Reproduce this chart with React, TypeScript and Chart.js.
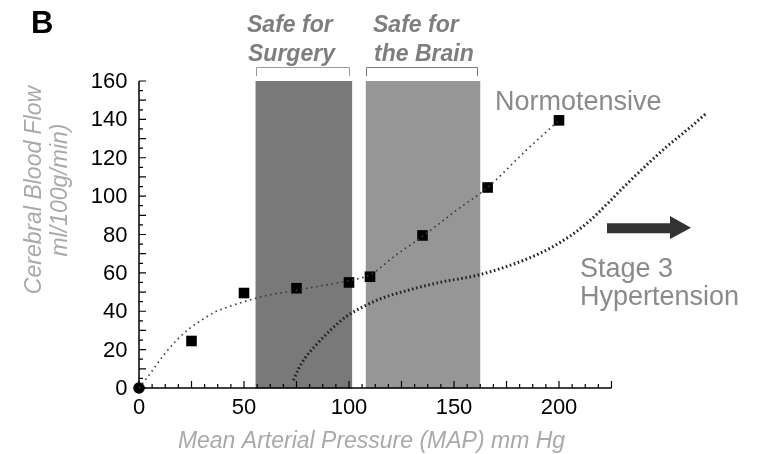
import React, { useEffect, useRef } from 'react';
import { Chart, registerables } from 'chart.js';

Chart.register(...registerables);

// Measured normotensive data points (MAP mm Hg, CBF ml/100g/min)
const measuredMAP = [25, 50, 75, 100, 110, 135, 166, 200];
const measuredCBF = [24.5, 49.5, 52, 55, 58, 79.5, 104.5, 139.5];

// Origin marker
const originPoint = [0, 0];

// Normotensive autoregulation curve
const normoCurveX = [0, 6, 12, 18, 24, 30, 36, 43, 50, 60, 75, 88, 100, 110, 122, 135, 151, 166, 184, 200];
const normoCurveY = [0, 8.5, 17.5, 25, 31, 35.5, 39.5, 42.5, 45, 48, 51, 53.5, 56, 59, 69, 79, 92.5, 104.5, 123.5, 139.5];

// Stage 3 hypertension curve
const hyperCurveX = [73.5, 76, 79, 84, 91, 99, 107, 115, 130, 143, 162, 183, 196, 207, 215, 223, 232, 242, 251, 261, 270];
const hyperCurveY = [4, 10, 15.5, 22, 30, 37.5, 42.5, 46.5, 51.5, 55, 59, 66.5, 73, 80.5, 87.5, 96, 106, 116.5, 125.5, 134.5, 143];

// Tick labels
const xTickLabels = [0, 50, 100, 150, 200];
const yTickLabels = [0, 20, 40, 60, 80, 100, 120, 140, 160];

// Shaded MAP ranges
const bandStarts = [55.5, 108];
const bandEnds = [101.5, 162.5];
const bandColors = ['#797979', '#969696'];
const bracketColors = ['#9a9a9a', '#7a7a7a'];
const bandLabelLines = [
  ['Safe for', 'Surgery'],
  ['Safe for', 'the Brain'],
];

const xAxisEnd = 225;
const FONT = "'Liberation Sans', Arial, Helvetica, sans-serif";

const decorPlugin = {
  id: 'decor',
  beforeDatasetsDraw(chart: any) {
    const { ctx, scales } = chart;
    const xs = scales.x;
    const ys = scales.y;
    const y0 = ys.getPixelForValue(0);
    const yTop = ys.getPixelForValue(160);
    ctx.save();
    // bands
    bandStarts.forEach((s, i) => {
      const l = xs.getPixelForValue(s);
      const r = xs.getPixelForValue(bandEnds[i]);
      ctx.fillStyle = bandColors[i];
      ctx.fillRect(l, yTop, r - l, y0 - yTop + 0.5);
      // brackets
      ctx.strokeStyle = bracketColors[i];
      ctx.lineWidth = 1;
      ctx.beginPath();
      const bl = Math.round(l) + 0.5;
      const br = Math.round(r - 3) + 0.5;
      ctx.moveTo(bl, 76);
      ctx.lineTo(bl, 67.5);
      ctx.lineTo(br, 67.5);
      ctx.lineTo(br, 76);
      ctx.stroke();
    });

    // axes
    const x0 = xs.getPixelForValue(0);
    const xEnd = xs.getPixelForValue(xAxisEnd);
    ctx.strokeStyle = '#000';
    ctx.lineWidth = 1.5;
    ctx.beginPath();
    ctx.moveTo(x0, yTop);
    ctx.lineTo(x0, y0);
    ctx.lineTo(xEnd, y0);
    ctx.stroke();

    ctx.lineWidth = 1.2;
    ctx.beginPath();
    for (let v = 0; v <= 160; v += 5) {
      const py = ys.getPixelForValue(v);
      const len = v % 10 === 0 ? 7 : 4;
      ctx.moveTo(x0, py);
      ctx.lineTo(x0 + len, py);
    }
    for (let v = 0; v <= xAxisEnd + 0.01; v += 6.25) {
      const px = xs.getPixelForValue(v);
      const len = Math.abs(v % 25) < 0.01 ? 7 : 4;
      ctx.moveTo(px, y0);
      ctx.lineTo(px, y0 - len);
    }
    ctx.stroke();

    // tick labels
    ctx.fillStyle = '#000';
    ctx.font = `22px ${FONT}`;
    ctx.textAlign = 'right';
    ctx.textBaseline = 'middle';
    yTickLabels.forEach((v) => {
      ctx.fillText(String(v), 127.5, ys.getPixelForValue(v) + 1);
    });
    ctx.textAlign = 'center';
    xTickLabels.forEach((v) => {
      ctx.fillText(String(v), xs.getPixelForValue(v), 407.5);
    });
    ctx.restore();
  },
  afterDraw(chart: any) {
    const { ctx } = chart;
    ctx.save();
    // panel letter
    ctx.fillStyle = '#000';
    ctx.font = `bold 31px ${FONT}`;
    ctx.textAlign = 'left';
    ctx.textBaseline = 'alphabetic';
    ctx.fillText('B', 31, 32.5);

    // band labels
    ctx.fillStyle = '#7e7e7e';
    ctx.font = `italic bold 23px ${FONT}`;
    const lefts = [247, 373];
    bandLabelLines.forEach((lines, i) => {
      ctx.fillText(lines[0], lefts[i], 31.5);
      ctx.fillText(lines[1], lefts[i] + 1, 60.5);
    });

    // curve labels
    ctx.fillStyle = '#8a8a8a';
    ctx.font = `27px ${FONT}`;
    ctx.fillText('Normotensive', 495, 110);
    ctx.fillText('Stage 3', 580, 276.5);
    ctx.fillText('Hypertension', 580, 305);

    // arrow
    ctx.fillStyle = '#333';
    ctx.beginPath();
    ctx.moveTo(607, 223.3);
    ctx.lineTo(670, 223.3);
    ctx.lineTo(670, 216);
    ctx.lineTo(691, 227.8);
    ctx.lineTo(670, 239);
    ctx.lineTo(670, 233.3);
    ctx.lineTo(607, 233.3);
    ctx.closePath();
    ctx.fill();

    // axis titles
    ctx.fillStyle = '#a9a9a9';
    ctx.font = `italic 23px ${FONT}`;
    ctx.textAlign = 'center';
    ctx.fillText('Mean Arterial Pressure (MAP) mm Hg', 371.5, 448);

    ctx.translate(0, 190);
    ctx.rotate(-Math.PI / 2);
    ctx.fillText('Cerebral Blood Flow', 0, 40.5);
    ctx.fillText('ml/100g/min)', 0, 67);
    ctx.restore();
  },
};

export default function App() {
  const canvasRef = useRef<HTMLCanvasElement | null>(null);

  useEffect(() => {
    const canvas = canvasRef.current;
    if (!canvas) return;
    const chart = new Chart(canvas, {
      type: 'line',
      data: {
        datasets: [
          {
            type: 'line',
            label: 'Normotensive curve',
            data: normoCurveX.map((x, i) => ({ x, y: normoCurveY[i] })),
            borderColor: '#3a3a3a',
            borderWidth: 1.6,
            borderDash: [1.6, 3.6],
            pointRadius: 0,
            cubicInterpolationMode: 'monotone',
            fill: false,
            clip: false,
          } as any,
          {
            type: 'line',
            label: 'Stage 3 hypertension curve',
            data: hyperCurveX.map((x, i) => ({ x, y: hyperCurveY[i] })),
            borderColor: '#222',
            borderWidth: 3,
            borderDash: [1.6, 2.6],
            pointRadius: 0,
            cubicInterpolationMode: 'monotone',
            fill: false,
            clip: false,
          } as any,
          {
            type: 'scatter',
            label: 'Normotensive',
            data: measuredMAP.map((x, i) => ({ x, y: measuredCBF[i] })),
            pointStyle: 'rect',
            pointRadius: 7.5,
            backgroundColor: '#000',
            borderColor: '#000',
            borderWidth: 0,
            clip: false,
          } as any,
          {
            type: 'scatter',
            label: 'Origin',
            data: [{ x: originPoint[0], y: originPoint[1] }],
            pointStyle: 'circle',
            pointRadius: 5.8,
            backgroundColor: '#000',
            borderColor: '#000',
            borderWidth: 0,
            clip: false,
          } as any,
        ],
      },
      options: {
        responsive: false,
        animation: false,
        layout: { padding: { left: 139, right: 48, top: 81, bottom: 66 } },
        scales: {
          x: { type: 'linear', min: 0, max: 280, display: false },
          y: { type: 'linear', min: 0, max: 160, display: false },
        },
        plugins: {
          legend: { display: false },
          tooltip: { enabled: false },
        },
        events: [],
      },
      plugins: [decorPlugin],
    });
    return () => chart.destroy();
  }, []);

  return (
    <div style={{ position: 'absolute', left: 0, top: 0, width: 775, height: 454, background: '#fff' }}>
      <canvas ref={canvasRef} width={775} height={454} style={{ display: 'block' }} />
    </div>
  );
}
